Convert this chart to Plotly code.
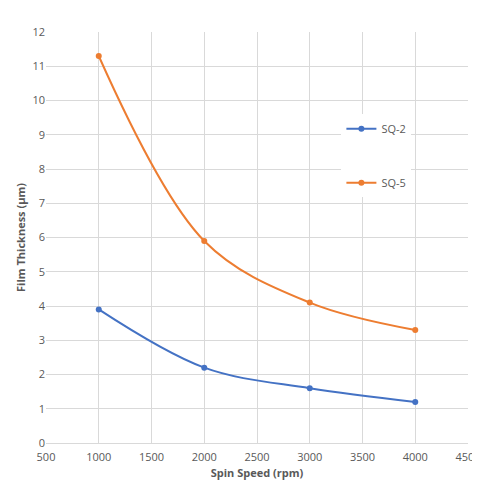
import plotly.graph_objects as go

speed = [1000, 2000, 3000, 4000]
sq2 = [3.9, 2.2, 1.6, 1.2]
sq5 = [11.3, 5.9, 4.1, 3.3]

fig = go.Figure()
fig.add_trace(go.Scatter(x=speed, y=sq2, name="SQ-2", mode="lines+markers",
    line=dict(color="#4472C4", width=2, shape="spline", smoothing=1.0),
    marker=dict(size=6, color="#4472C4"), legendgroup="a"))
fig.add_trace(go.Scatter(x=speed, y=sq5, name="SQ-5", mode="lines+markers",
    line=dict(color="#ED7D31", width=2, shape="spline", smoothing=1.0),
    marker=dict(size=6, color="#ED7D31"), legendgroup="b"))

axfont = dict(family="Open Sans", size=11, color="#595959")
fig.update_layout(
    width=480, height=480, paper_bgcolor="white", plot_bgcolor="white",
    margin=dict(l=38, r=20, t=24, b=45),
    xaxis=dict(range=[500, 4500], dtick=500, showgrid=True, gridcolor="#D9D9D9",
               linecolor="#D9D9D9", zeroline=False, tickfont=axfont, automargin=False,
               ticklabelstandoff=4,
               title=dict(text="<b>Spin Speed (rpm)</b>", font=axfont, standoff=6)),
    yaxis=dict(range=[0, 12], dtick=1, showgrid=True, gridcolor="#D9D9D9",
               zeroline=False, tickfont=axfont, automargin=False,
               title=dict(text="<b>Film Thickness (µm)</b>", font=axfont, standoff=4)),
    legend=dict(x=0.70, y=0.80, xanchor="left", yanchor="top", bgcolor="white",
                font=dict(family="Open Sans", size=11, color="#595959"),
                tracegroupgap=35, itemwidth=30),
    showlegend=True,
)
fig.write_html("out.html")
